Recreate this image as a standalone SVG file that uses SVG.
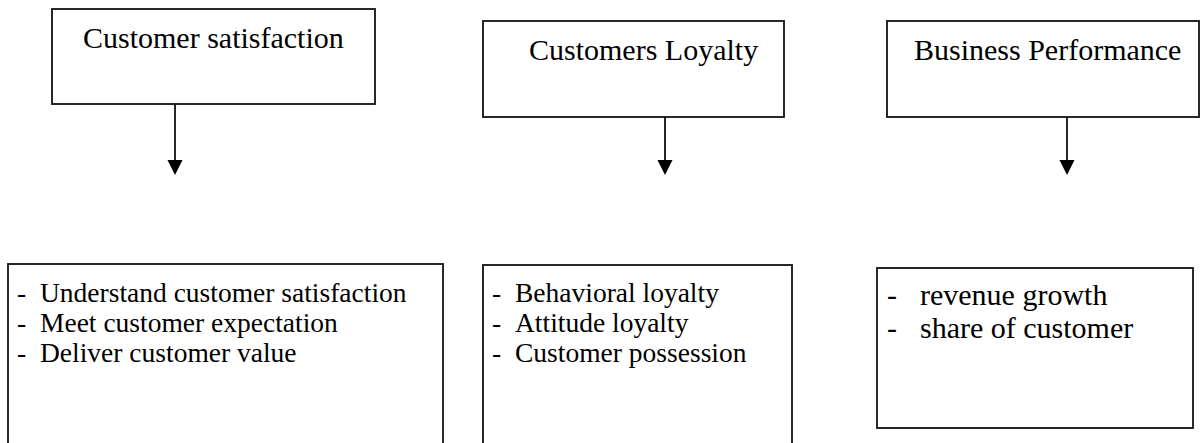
<svg xmlns="http://www.w3.org/2000/svg" width="1204" height="443" viewBox="0 0 1204 443">
<style>
.box{fill:#fff;stroke:#111;stroke-width:1.8}
.t{font-family:"Liberation Serif","Times New Roman",serif;fill:#000}
.h{font-size:30px}
.b{font-size:27.5px}
.r{font-size:30px}
.c{stroke:#000;stroke-width:1.7;fill:none}
</style>
<rect width="1204" height="443" fill="#fff"/>
<g id="n1"><rect class="box" x="52" y="9" width="323" height="95"/><text class="t h" x="83" y="48">Customer satisfaction</text></g>
<g id="n2"><rect class="box" x="483" y="21" width="301" height="96"/><text class="t h" x="529" y="60">Customers Loyalty</text></g>
<g id="n3"><rect class="box" x="887" y="21" width="312" height="96"/><text class="t h" x="914" y="60">Business Performance</text></g>
<g id="n4"><rect class="box" x="8" y="264" width="435" height="200"/>
<text class="t b"><tspan x="17" y="302">-</tspan><tspan x="40" y="302">Understand customer satisfaction</tspan><tspan x="17" y="332">-</tspan><tspan x="40" y="332">Meet customer expectation</tspan><tspan x="17" y="362">-</tspan><tspan x="40" y="362">Deliver customer value</tspan></text></g>
<g id="n5"><rect class="box" x="483" y="265" width="309" height="200"/>
<text class="t b"><tspan x="492" y="302">-</tspan><tspan x="515" y="302">Behavioral loyalty</tspan><tspan x="492" y="332">-</tspan><tspan x="515" y="332">Attitude loyalty</tspan><tspan x="492" y="362">-</tspan><tspan x="515" y="362">Customer possession</tspan></text></g>
<g id="n6"><rect class="box" x="877" y="268" width="316" height="160"/>
<text class="t r"><tspan x="887" y="305">-</tspan><tspan x="920" y="305">revenue growth</tspan><tspan x="887" y="338">-</tspan><tspan x="920" y="338">share of customer</tspan></text></g>
<g id="connectors">
<line class="c" x1="175" y1="104" x2="175" y2="161"/><polygon points="167.5,160 182.5,160 175,175" fill="#000"/>
<line class="c" x1="665" y1="117" x2="665" y2="161"/><polygon points="657.5,160 672.5,160 665,175" fill="#000"/>
<line class="c" x1="1067" y1="117" x2="1067" y2="161"/><polygon points="1059.5,160 1074.5,160 1067,175" fill="#000"/>
</g>
</svg>
